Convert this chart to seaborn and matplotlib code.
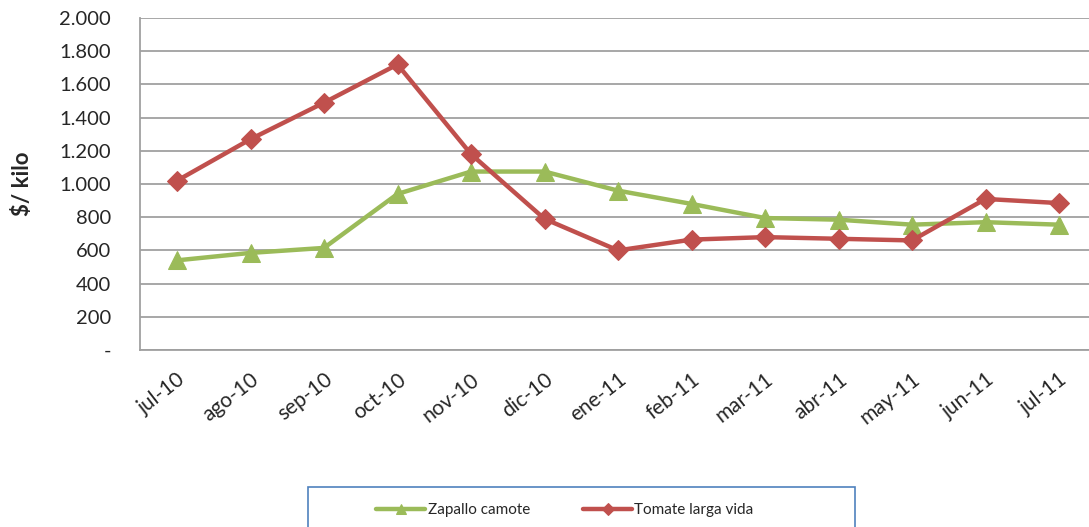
import matplotlib
matplotlib.use("Agg")
import matplotlib.pyplot as plt
import seaborn as sns
import numpy as np
import pandas as pd
from matplotlib.patches import Rectangle
from matplotlib.ticker import FuncFormatter

months = ["jul-10", "ago-10", "sep-10", "oct-10", "nov-10", "dic-10", "ene-11",
          "feb-11", "mar-11", "abr-11", "may-11", "jun-11", "jul-11"]
zapallo = [540, 585, 615, 940, 1075, 1075, 960, 880, 795, 785, 755, 770, 755]
tomate = [1020, 1270, 1490, 1720, 1180, 790, 600, 665, 680, 670, 660, 910, 885]
y_ticks = [0, 200, 400, 600, 800, 1000, 1200, 1400, 1600, 1800, 2000]

sns.set_style("white")
plt.rcParams['font.family'] = ['Lato', 'DejaVu Sans']

W, H = 1089, 527
fig = plt.figure(figsize=(W / 100, H / 100), dpi=100)
ax = fig.add_axes([140 / W, 1 - 350 / H, 1 - 140 / W, (350 - 18) / H])

idx = np.arange(len(months))
df = pd.DataFrame({"idx": idx, "Zapallo camote": zapallo, "Tomate larga vida": tomate})

green = "#9BBB59"
red = "#C0504D"
sns.lineplot(data=df, x="idx", y="Zapallo camote", ax=ax, color=green, lw=3.2,
             marker="^", markersize=13, markeredgecolor=green, label="Zapallo camote")
sns.lineplot(data=df, x="idx", y="Tomate larga vida", ax=ax, color=red, lw=3.2,
             marker="D", markersize=10, markeredgecolor=red, label="Tomate larga vida")

sp = (1059 - 177) / 12.0
ax.set_xlim((140 - 177) / sp, (1089 - 177) / sp)
ax.set_ylim(0, 2000)
ax.set_yticks(y_ticks)
ax.yaxis.set_major_formatter(FuncFormatter(
    lambda v, p: "-" if v == 0 else f"{int(v):,}".replace(",", ".")))
ax.set_xticks(idx)
ax.set_xticklabels(months, rotation=38, ha="right", rotation_mode="anchor")
ax.tick_params(axis="x", length=0, pad=14, labelsize=15)
ax.tick_params(axis="y", length=0, pad=21, labelsize=14.5)
ax.grid(axis="y", color="#a0a0a0", lw=1.3)
ax.set_axisbelow(True)
for s in ["top", "right"]:
    ax.spines[s].set_visible(False)
for s in ["left", "bottom"]:
    ax.spines[s].set_color("#a0a0a0")
    ax.spines[s].set_linewidth(1.3)
ax.set_xlabel("")
ax.set_ylabel("$/ kilo", fontsize=16, fontweight="bold")
ax.yaxis.set_label_coords(-107 / (W - 140), 0.50)

ax.get_legend().remove()
handles, labels = ax.get_legend_handles_labels()
fig.legend(handles, labels, loc="center", bbox_to_anchor=(565 / W, 1 - 510 / H),
           ncol=2, frameon=False, fontsize=11, handlelength=3.2, handletextpad=0.15,
           columnspacing=3.5, markerscale=0.6)
fig.patches.append(Rectangle((308 / W, -0.05), (855 - 308) / W, 0.05 + (527 - 487) / H,
                             transform=fig.transFigure, fill=False,
                             edgecolor="#4F81BD", lw=1.2))

fig.savefig("out.png", dpi=100)
